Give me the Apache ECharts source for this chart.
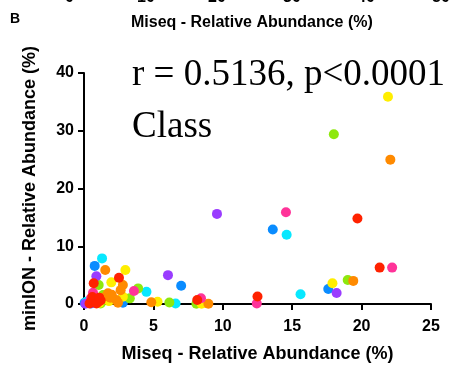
<!DOCTYPE html>
<html>
<head>
<meta charset="utf-8">
<script src="https://cdn.jsdelivr.net/npm/echarts@6/dist/echarts.min.js"></script>
<style>
  html, body { margin: 0; padding: 0; background: #fff; }
  #chart { width: 449px; height: 365px; }
</style>
</head>
<body>
<div id="chart"></div>
<script>
// Relative abundance per class: [Miseq %, minION %]
const red    = [[0.7,3.6],[2.52,4.55],[8.16,0.7],[12.5,1.3],[19.7,14.8],[21.3,6.3],[0.5,0.4],[0.8,0.8],[1.0,0.3],[1.2,0.6],[0.6,1.2],[0.4,0.1],[0.9,0.1],[1.1,1.1]];
const orange = [[1.53,5.9],[2.8,3.3],[2.64,2.4],[1.73,1.85],[1.6,1.4],[2.0,1.6],[2.33,0.7],[2.45,0.22],[4.85,0.3],[8.96,0.05],[19.4,4.0],[22.07,25.0],[1.9,1.1]];
const yellow = [[2.98,5.9],[1.97,3.75],[2.8,1.27],[5.3,0.4],[8.47,0.05],[17.9,3.6],[21.9,35.9],[1.8,0.5],[1.1,0.2]];
const green  = [[1.06,3.3],[3.9,2.7],[1.37,1.55],[3.3,0.98],[6.15,0.25],[8.1,0.05],[19.0,4.15],[18.0,29.4],[1.2,0.1],[0.6,0.6]];
const cyan   = [[1.3,7.9],[4.5,2.1],[0.17,0.4],[6.6,0.1],[15.6,1.7],[14.6,12.0],[0.3,0.2]];
const blue   = [[0.77,6.6],[7.0,3.17],[2.8,0.22],[0.05,0.2],[13.6,12.9],[17.6,2.6],[0.5,0.1]];
const purple = [[0.89,4.8],[6.05,5.0],[9.58,15.6],[18.2,1.9],[0.1,0.05],[0.6,0.2]];
const pink   = [[0.65,1.96],[3.6,2.25],[8.43,1.0],[12.45,0.1],[14.55,15.9],[22.2,6.3],[0.5,1.0]];

const xTicks = [0, 5, 10, 15, 20, 25];
const yTicks = [0, 10, 20, 30, 40];
const upperPanelTicks = ['0', '10', '20', '30', '40', '50'];

const groups = [
  { name: 'blue',   data: blue,   color: '#0a8cff' },
  { name: 'cyan',   data: cyan,   color: '#08e8ff' },
  { name: 'green',  data: green,  color: '#8ee80e' },
  { name: 'yellow', data: yellow, color: '#ffee00' },
  { name: 'orange', data: orange, color: '#ff8a00' },
  { name: 'pink',   data: pink,   color: '#ff3399' },
  { name: 'purple', data: purple, color: '#9a3cff' },
  { name: 'red',    data: red,    color: '#ff2200' }
];

const sans = '"Liberation Sans", Arial, sans-serif';
const serif = '"Liberation Serif", "Times New Roman", serif';

const chart = echarts.init(document.getElementById('chart'), null, { renderer: 'canvas' });

// bottom edge of the panel above (tick labels cut by the page edge) and its axis title
const upperX = [70, 142, 213, 288, 362, 437];
const upperGraphics = upperPanelTicks.map((t, i) => ({
  type: 'text', left: upperX[i] - 5, top: -10,
  style: { text: t, font: 'bold 16px ' + sans, fill: '#000' }
}));

chart.setOption({
  animation: false,
  backgroundColor: '#fff',
  grid: { left: 84, right: 18, top: 73, bottom: 61, outerBoundsMode: 'none', containLabel: false },
  xAxis: {
    type: 'value', min: xTicks[0], max: xTicks[xTicks.length - 1], interval: 5,
    name: 'Miseq - Relative Abundance (%)', nameLocation: 'middle', nameGap: 41,
    nameTextStyle: { fontFamily: sans, fontWeight: 'bold', fontSize: 18, color: '#000' },
    axisLine: { onZero: false, lineStyle: { color: '#000', width: 2 } },
    axisTick: { show: true, inside: false, length: 6, lineStyle: { color: '#000', width: 2 } },
    axisLabel: { fontFamily: sans, fontWeight: 'bold', fontSize: 16, color: '#000', margin: 15 },
    splitLine: { show: false }
  },
  yAxis: {
    type: 'value', min: yTicks[0], max: yTicks[yTicks.length - 1], interval: 10,
    name: 'minION - Relative Abundance (%)', nameLocation: 'middle', nameGap: 45,
    nameTextStyle: { fontFamily: sans, fontWeight: 'bold', fontSize: 18, color: '#000' },
    axisLine: { show: true, onZero: false, lineStyle: { color: '#000', width: 2 } },
    axisTick: { show: true, inside: false, length: 6, lineStyle: { color: '#000', width: 2 } },
    axisLabel: { fontFamily: sans, fontWeight: 'bold', fontSize: 16, color: '#000', margin: 10 },
    splitLine: { show: false }
  },
  series: groups.map(g => ({
    name: g.name, type: 'scatter', data: g.data,
    symbol: 'circle', symbolSize: 10,
    itemStyle: { color: g.color, opacity: 1 }
  })),
  graphic: upperGraphics.concat([
    { type: 'text', left: 10, top: 12,
      style: { text: 'B', font: 'bold 14px ' + sans, fill: '#000' } },
    { type: 'text', left: 131, top: 15,
      style: { text: 'Miseq - Relative Abundance (%)', font: 'bold 16px ' + sans, fill: '#000' } },
    { type: 'text', left: 132, top: 57,
      style: { text: 'r = 0.5136, p<0.0001', font: '37px ' + serif, fill: '#000' } },
    { type: 'text', left: 132, top: 109,
      style: { text: 'Class', font: '37px ' + serif, fill: '#000' } }
  ])
});
</script>
</body>
</html>
